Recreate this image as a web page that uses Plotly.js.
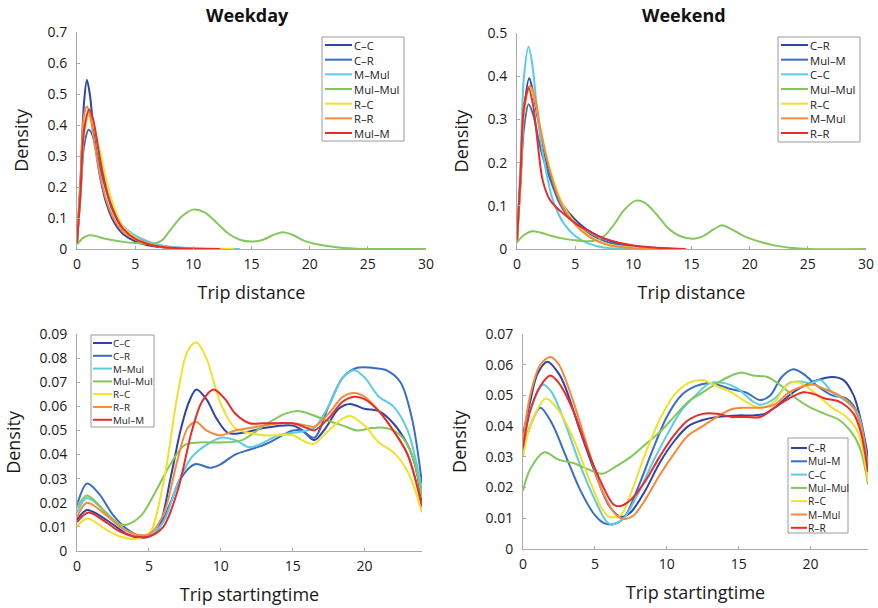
<!DOCTYPE html>
<html>
<head>
<meta charset="utf-8">
<script src="https://cdn.plot.ly/plotly-3.0.1.min.js"></script>
<style>html,body{margin:0;padding:0;background:#fff;}#chart{width:878px;height:608px;}</style>
</head>
<body>
<div id="chart"></div>
<script>
// ---------- Panel titles / labels ----------
const panelTitles = ["Weekday", "Weekend"];
const xTitleDistance = "Trip distance";
const xTitleTime = "Trip startingtime";
const yTitle = "Density";

// ---------- Weekday: trip distance ----------
const wdDistNames = ["C–C", "C–R", "M–Mul", "Mul–Mul", "R–C", "R–R", "Mul–M"];
const wdDist_CC_x = [0,0.3,0.6,0.85,1.1,1.4,1.7,2,2.5,3,3.5,4,5,6,7,8,10,12];
const wdDist_CC_y = [0.02,0.22,0.47,0.545,0.5,0.39,0.3,0.23,0.15,0.1,0.068,0.047,0.025,0.013,0.007,0.003,0.001,0];
const wdDist_CR_x = [0,0.3,0.6,1,1.3,1.7,2,2.5,3,3.5,4,5,6,7,8,10,12];
const wdDist_CR_y = [0.02,0.17,0.33,0.385,0.37,0.31,0.26,0.19,0.13,0.09,0.064,0.038,0.022,0.012,0.006,0.002,0];
const wdDist_MMul_x = [0,0.3,0.6,1,1.3,1.7,2,2.5,3,3.5,4,5,6,7,8,10,12,14];
const wdDist_MMul_y = [0.02,0.19,0.37,0.44,0.42,0.35,0.29,0.21,0.145,0.1,0.072,0.044,0.026,0.014,0.007,0.002,0.0007,0];
const wdDist_MulMul_x = [0,0.5,1,1.5,2,3,4,5,6,6.7,7.3,8,9,10,11,12,13,14,15,16,17,17.7,18.5,19.5,20.5,22,23,24,26,30];
const wdDist_MulMul_y = [0.015,0.035,0.044,0.043,0.037,0.029,0.023,0.019,0.017,0.019,0.028,0.06,0.105,0.127,0.117,0.085,0.05,0.03,0.024,0.03,0.047,0.054,0.046,0.027,0.016,0.007,0.003,0.001,0,0];
const wdDist_RC_x = [0,0.3,0.6,1,1.3,1.7,2,2.5,3,3.5,4,5,6,7,8,10,12,13.5];
const wdDist_RC_y = [0.02,0.18,0.37,0.43,0.415,0.36,0.31,0.225,0.155,0.105,0.07,0.037,0.019,0.009,0.004,0.0015,0.0004,0];
const wdDist_RR_x = [0,0.3,0.6,0.85,1.1,1.5,2,2.5,3,3.5,4,5,6,7,8,10,12];
const wdDist_RR_y = [0.02,0.22,0.43,0.46,0.435,0.34,0.235,0.16,0.11,0.077,0.054,0.031,0.017,0.009,0.004,0.001,0];
const wdDist_MulM_x = [0,0.3,0.6,1.05,1.4,1.8,2.2,2.6,3,3.5,4,5,6,7,8,10,12.3];
const wdDist_MulM_y = [0.02,0.18,0.38,0.45,0.415,0.33,0.245,0.18,0.135,0.093,0.064,0.033,0.017,0.008,0.004,0.001,0];

// ---------- Weekend: trip distance ----------
const weDistNames = ["C–R", "Mul–M", "C–C", "Mul–Mul", "R–C", "M–Mul", "R–R"];
const weDist_CR_x = [0,0.3,0.6,1.05,1.4,1.8,2.2,2.6,3,3.5,4,5,6,7,8,9,10,12,14];
const weDist_CR_y = [0.02,0.16,0.32,0.395,0.36,0.3,0.24,0.195,0.16,0.125,0.1,0.068,0.045,0.03,0.019,0.012,0.007,0.002,0];
const weDist_MulM_x = [0,0.3,0.6,1,1.4,1.8,2.2,2.6,3,3.5,4,5,6,7,8,10,12,14];
const weDist_MulM_y = [0.02,0.15,0.28,0.335,0.31,0.26,0.215,0.18,0.15,0.115,0.09,0.06,0.038,0.024,0.014,0.005,0.001,0];
const weDist_CC_x = [0,0.3,0.6,1,1.3,1.7,2,2.5,3,3.5,4,5,6,7,8,10];
const weDist_CC_y = [0.02,0.2,0.4,0.468,0.43,0.33,0.26,0.18,0.12,0.085,0.06,0.03,0.014,0.006,0.002,0];
const weDist_MulMul_x = [0,0.5,1.3,2,3,4,5,6,6.8,7.5,8.3,9.2,10.2,11,12,13,14,15.2,16,17,17.6,18.5,19.5,20.5,22,23.5,25,30];
const weDist_MulMul_y = [0.015,0.03,0.041,0.038,0.03,0.024,0.02,0.018,0.02,0.03,0.055,0.09,0.112,0.107,0.08,0.048,0.03,0.024,0.03,0.047,0.055,0.045,0.03,0.02,0.009,0.003,0,0];
const weDist_RC_x = [0,0.3,0.6,1.1,1.5,2,2.5,3,3.5,4,5,6,7,8,10,12,14.5];
const weDist_RC_y = [0.02,0.15,0.31,0.375,0.35,0.28,0.22,0.17,0.13,0.1,0.06,0.035,0.019,0.01,0.003,0.001,0];
const weDist_MMul_x = [0,0.3,0.6,1.1,1.5,2,2.5,3,3.5,4,5,6,7,8,10,12,14];
const weDist_MMul_y = [0.02,0.16,0.32,0.378,0.355,0.28,0.215,0.165,0.125,0.095,0.057,0.032,0.017,0.008,0.002,0.0005,0];
const weDist_RR_x = [0,0.3,0.6,1,1.4,1.8,2.2,2.8,3.5,4,5,6,7,8,10,12,14.5];
const weDist_RR_y = [0.02,0.17,0.33,0.372,0.33,0.24,0.16,0.115,0.093,0.082,0.06,0.044,0.03,0.02,0.008,0.003,0];

// ---------- Weekday: trip starting time ----------
const wdTimeNames = ["C–C", "C–R", "M–Mul", "Mul–Mul", "R–C", "R–R", "Mul–M"];
const wdTime_CC_x = [0,0.7,1.5,2.5,3.5,4.3,5,5.7,6.5,7.2,7.8,8.3,9,9.7,10.5,11.5,13,15,15.7,16.5,17.3,18.2,19,20,21,22,23,23.5,24];
const wdTime_CC_y = [0.013,0.017,0.015,0.011,0.007,0.0055,0.006,0.01,0.03,0.05,0.062,0.067,0.063,0.055,0.049,0.049,0.051,0.052,0.05,0.046,0.051,0.059,0.061,0.059,0.058,0.053,0.044,0.036,0.021];
const wdTime_CR_x = [0,0.7,1.5,2.5,3.5,4.5,5.5,6.5,7.2,8.2,9.3,10,11,12,13,14,15,15.6,16.5,17.5,18.5,19.5,20.5,21.5,22.5,23.3,24];
const wdTime_CR_y = [0.019,0.028,0.024,0.015,0.009,0.006,0.008,0.02,0.03,0.036,0.0345,0.036,0.04,0.042,0.044,0.047,0.05,0.05,0.047,0.06,0.072,0.076,0.076,0.075,0.07,0.055,0.028];
const wdTime_MMul_x = [0,0.7,2,3,4,5,6,7,8,9,10,11,12,13,14,15,16,16.5,17.5,18.5,19.3,20,21,22,23,24];
const wdTime_MMul_y = [0.016,0.022,0.016,0.01,0.007,0.0065,0.012,0.028,0.039,0.044,0.047,0.046,0.043,0.045,0.048,0.049,0.05,0.051,0.06,0.072,0.075,0.072,0.064,0.06,0.05,0.025];
const wdTime_MulMul_x = [0,0.7,2,3,3.5,4.5,5.5,6.5,7.5,8.5,10,11.5,13,14.5,15.5,17,18.5,19.5,20.5,21.5,22.5,23.3,24];
const wdTime_MulMul_y = [0.018,0.023,0.016,0.011,0.011,0.015,0.025,0.036,0.044,0.045,0.045,0.046,0.052,0.057,0.058,0.055,0.052,0.05,0.051,0.051,0.048,0.04,0.022];
const wdTime_RC_x = [0,0.7,2,3,4,5,6,7,7.7,8.3,9,10,11,12,13,14,15,16,16.5,17.5,18.5,19,20,21,22,23,24];
const wdTime_RC_y = [0.01,0.0135,0.009,0.006,0.005,0.007,0.028,0.065,0.083,0.0865,0.08,0.061,0.051,0.049,0.048,0.048,0.048,0.045,0.0445,0.05,0.055,0.056,0.052,0.045,0.041,0.033,0.016];
const wdTime_RR_x = [0,0.7,2,3,4,5,6,7,7.7,8.3,9,10,11,12,13,14,15,16,16.5,17.5,18.5,19.3,20,21,22,23,24];
const wdTime_RR_y = [0.014,0.02,0.015,0.01,0.007,0.007,0.015,0.038,0.051,0.0535,0.05,0.048,0.05,0.051,0.052,0.053,0.053,0.052,0.0515,0.057,0.064,0.0655,0.064,0.058,0.05,0.04,0.018];
const wdTime_MulM_x = [0,0.8,2,3,4,5,6,7,8,8.7,9.5,10.3,11,12,13,14,15,16,16.5,17.5,18.5,19.3,20,21,22,23,24];
const wdTime_MulM_y = [0.012,0.016,0.012,0.008,0.006,0.006,0.01,0.025,0.05,0.062,0.067,0.063,0.057,0.053,0.053,0.053,0.053,0.051,0.05,0.055,0.062,0.064,0.063,0.058,0.05,0.04,0.019];

// ---------- Weekend: trip starting time ----------
const weTimeNames = ["C–R", "Mul–M", "C–C", "Mul–Mul", "R–C", "M–Mul", "R–R"];
const weTime_CR_x = [0,0.5,1,1.7,2.5,3,4,5,6,6.8,7.5,8.5,9.5,10.5,11.5,12.5,13.5,15,16,16.8,17.5,18.5,19.5,20.5,21.5,22.3,23,23.5,24];
const weTime_CR_y = [0.037,0.048,0.057,0.061,0.057,0.052,0.038,0.025,0.014,0.0105,0.012,0.019,0.028,0.035,0.04,0.042,0.043,0.0435,0.0435,0.044,0.046,0.05,0.053,0.055,0.056,0.055,0.05,0.042,0.03];
const weTime_MulM_x = [0,0.5,1.2,2,3,4,5,5.6,6.2,7,8,9,10,11,12,12.8,13.5,14.5,15.5,16.5,17.2,18,18.8,19.5,20.5,21.5,22.5,23.2,24];
const weTime_MulM_y = [0.032,0.04,0.046,0.041,0.03,0.019,0.011,0.0085,0.008,0.01,0.02,0.032,0.043,0.05,0.053,0.054,0.0535,0.052,0.051,0.0485,0.05,0.056,0.0585,0.057,0.053,0.05,0.049,0.045,0.028];
const weTime_CC_x = [0,0.5,1.4,2,3,4,5,5.8,6.2,7,8,9,10,11,12,13,14,15,16,16.5,17.5,18.5,19.3,20,20.7,21.5,22.5,23.3,24];
const weTime_CC_y = [0.033,0.045,0.0535,0.051,0.04,0.027,0.016,0.009,0.008,0.01,0.018,0.028,0.037,0.045,0.05,0.054,0.054,0.052,0.048,0.047,0.049,0.054,0.0545,0.054,0.055,0.051,0.048,0.044,0.025];
const weTime_MulMul_x = [0,0.5,1.5,2.5,3.5,4.5,5.5,6.5,7.5,8.5,9.5,10.5,11.5,12.5,13.5,14.5,15.2,16,17,18,19,20,21,22,23,23.5,24];
const weTime_MulMul_y = [0.019,0.026,0.0315,0.029,0.028,0.026,0.0245,0.027,0.03,0.034,0.038,0.043,0.048,0.051,0.054,0.0565,0.0575,0.0565,0.056,0.053,0.049,0.046,0.044,0.042,0.037,0.032,0.021];
const weTime_RC_x = [0,0.5,1.6,2.5,3.5,4.5,5.5,6,6.8,7.5,8.5,9.5,10.5,11.5,12.5,13.5,14.5,15.5,16.5,17.5,18.3,19,19.7,20.5,21.5,22.5,23.3,24];
const weTime_RC_y = [0.03,0.04,0.049,0.045,0.036,0.024,0.013,0.0105,0.011,0.018,0.031,0.042,0.05,0.054,0.055,0.053,0.051,0.048,0.046,0.048,0.053,0.0545,0.053,0.05,0.046,0.043,0.038,0.022];
const weTime_MMul_x = [0,0.5,1.2,1.9,2.5,3.5,4.5,5.5,6.5,7,7.7,8.5,9.5,10.5,11.5,12.5,13.5,14.5,15.5,16.5,17.5,18.5,19.5,20.2,21,22,23,23.5,24];
const weTime_MMul_y = [0.035,0.05,0.06,0.0625,0.06,0.048,0.033,0.019,0.011,0.0098,0.011,0.016,0.024,0.031,0.037,0.04,0.043,0.0455,0.046,0.046,0.047,0.051,0.053,0.0535,0.052,0.05,0.046,0.04,0.026];
const weTime_RR_x = [0,0.5,1.2,1.9,2.5,3.5,4.5,5.5,6.3,6.8,7.5,8.5,9.5,10.5,11.5,12.5,13.5,14.5,15.5,16.5,17.5,18.5,19.5,20.2,21,22,23,23.5,24];
const weTime_RR_y = [0.033,0.045,0.053,0.0565,0.054,0.045,0.032,0.021,0.0145,0.014,0.016,0.022,0.03,0.037,0.042,0.044,0.044,0.043,0.043,0.043,0.046,0.049,0.051,0.0505,0.049,0.048,0.044,0.038,0.025];

// ---------- Tick values ----------
const distTicks = [0, 5, 10, 15, 20, 25, 30];
const timeTicks = [0, 5, 10, 15, 20];
const wdDistYTicks = [0, 0.1, 0.2, 0.3, 0.4, 0.5, 0.6, 0.7];
const weDistYTicks = [0, 0.1, 0.2, 0.3, 0.4, 0.5];
const wdTimeYTicks = [0, 0.01, 0.02, 0.03, 0.04, 0.05, 0.06, 0.07, 0.08, 0.09];
const weTimeYTicks = [0, 0.01, 0.02, 0.03, 0.04, 0.05, 0.06, 0.07];

// ---------- Colours (legend order) ----------
const seriesColors = ["#2f45a6", "#3a6cc6", "#5ccbe6", "#82c85a", "#f0e22a", "#f58a3a", "#ea2b2b"];

const W = 878, H = 608;
const px = v => v / W;
const py = v => 1 - v / H;

const panels = [
  { xa: "x", ya: "y", names: wdDistNames, xs: [wdDist_CC_x, wdDist_CR_x, wdDist_MMul_x, wdDist_MulMul_x, wdDist_RC_x, wdDist_RR_x, wdDist_MulM_x],
    ys: [wdDist_CC_y, wdDist_CR_y, wdDist_MMul_y, wdDist_MulMul_y, wdDist_RC_y, wdDist_RR_y, wdDist_MulM_y] },
  { xa: "x2", ya: "y2", names: weDistNames, xs: [weDist_CR_x, weDist_MulM_x, weDist_CC_x, weDist_MulMul_x, weDist_RC_x, weDist_MMul_x, weDist_RR_x],
    ys: [weDist_CR_y, weDist_MulM_y, weDist_CC_y, weDist_MulMul_y, weDist_RC_y, weDist_MMul_y, weDist_RR_y] },
  { xa: "x3", ya: "y3", names: wdTimeNames, xs: [wdTime_CC_x, wdTime_CR_x, wdTime_MMul_x, wdTime_MulMul_x, wdTime_RC_x, wdTime_RR_x, wdTime_MulM_x],
    ys: [wdTime_CC_y, wdTime_CR_y, wdTime_MMul_y, wdTime_MulMul_y, wdTime_RC_y, wdTime_RR_y, wdTime_MulM_y] },
  { xa: "x4", ya: "y4", names: weTimeNames, xs: [weTime_CR_x, weTime_MulM_x, weTime_CC_x, weTime_MulMul_x, weTime_RC_x, weTime_MMul_x, weTime_RR_x],
    ys: [weTime_CR_y, weTime_MulM_y, weTime_CC_y, weTime_MulMul_y, weTime_RC_y, weTime_MMul_y, weTime_RR_y] }
];

const traces = [];
panels.forEach(p => {
  p.names.forEach((n, i) => {
    traces.push({
      type: "scatter", mode: "lines", name: n,
      x: p.xs[i], y: p.ys[i], xaxis: p.xa, yaxis: p.ya,
      line: { color: seriesColors[i], width: 2, shape: "spline", smoothing: 0.9 },
      showlegend: false, hoverinfo: "x+y+name"
    });
  });
});

const FONT = "Open Sans, Noto Sans, sans-serif";
const axisBase = {
  showline: true, linecolor: "#a9a9a9", linewidth: 1, mirror: false,
  showgrid: false, zeroline: false,
  ticks: "inside", ticklen: 3, tickcolor: "#a9a9a9", tickwidth: 1,
  tickfont: { family: FONT, size: 14, color: "#1a1a1a" },
  fixedrange: true
};
function xAxis(domain, range, ticks, title, anchor) {
  return Object.assign({}, axisBase, {
    domain: domain, range: range, tickvals: ticks, ticktext: ticks.map(String), anchor: anchor,
    ticklabelstandoff: 2,
    title: { text: title, font: { family: FONT, size: 18, color: "#1a1a1a" }, standoff: 14 }
  });
}
function yAxis(domain, range, ticks, anchor) {
  return Object.assign({}, axisBase, {
    domain: domain, range: range, tickvals: ticks, ticktext: ticks.map(String), anchor: anchor,
    ticklabelstandoff: 6,
    title: { text: yTitle, font: { family: FONT, size: 18, color: "#1a1a1a" }, standoff: 14 }
  });
}

// ---------- Custom compact legends (shapes + multi-line text) ----------
const shapes = [];
const annotations = [];
function addLegend(names, box, firstY, step, lx0, lx1, tx) {
  shapes.push({ type: "rect", xref: "paper", yref: "paper",
    x0: px(box[0]), x1: px(box[1]), y0: py(box[3]), y1: py(box[2]),
    line: { color: "#9a9a9a", width: 1 }, fillcolor: "#ffffff", layer: "above" });
  names.forEach((n, i) => {
    const yy = firstY + i * step;
    shapes.push({ type: "line", xref: "paper", yref: "paper",
      x0: px(lx0), x1: px(lx1), y0: py(yy), y1: py(yy),
      line: { color: seriesColors[i], width: 2 }, layer: "above" });
  });
  const centerY = firstY + step * (names.length - 1) / 2;
  annotations.push({ xref: "paper", yref: "paper", x: px(tx), y: py(centerY),
    xanchor: "left", yanchor: "middle", align: "left", showarrow: false, borderpad: 0,
    text: names.join("<br>"),
    font: { family: FONT, size: step / 1.3, color: "#222" } });
}
addLegend(wdDistNames, [322, 404, 37, 141], 45, 14.67, 325, 352, 353);
addLegend(weDistNames, [778, 860, 37, 142], 45, 14.67, 781, 808, 809);
addLegend(wdTimeNames, [91, 154, 335, 427], 343, 12.8, 93, 112, 112);
addLegend(weTimeNames, [788, 848, 438, 533], 448, 13.3, 791, 807, 807);

annotations.push({ xref: "paper", yref: "paper", x: px(247), y: py(15), xanchor: "center", yanchor: "middle",
  showarrow: false, text: "<b>" + panelTitles[0] + "</b>", font: { family: FONT, size: 18, color: "#111" } });
annotations.push({ xref: "paper", yref: "paper", x: px(684), y: py(15), xanchor: "center", yanchor: "middle",
  showarrow: false, text: "<b>" + panelTitles[1] + "</b>", font: { family: FONT, size: 18, color: "#111" } });

const layout = {
  width: W, height: H,
  margin: { l: 0, r: 0, t: 0, b: 0 },
  paper_bgcolor: "#ffffff", plot_bgcolor: "#ffffff",
  font: { family: FONT },
  showlegend: false,
  xaxis:  xAxis([px(77), px(426)], [0, 30], distTicks, xTitleDistance, "y"),
  yaxis:  yAxis([py(249), py(32)], [0, 0.7], wdDistYTicks, "x"),
  xaxis2: xAxis([px(517), px(866)], [0, 30], distTicks, xTitleDistance, "y2"),
  yaxis2: yAxis([py(249), py(33)], [0, 0.5], weDistYTicks, "x2"),
  xaxis3: xAxis([px(77), px(422)], [0, 24], timeTicks, xTitleTime, "y3"),
  yaxis3: yAxis([py(551), py(334)], [0, 0.09], wdTimeYTicks, "x3"),
  xaxis4: xAxis([px(523), px(868)], [0, 24], timeTicks, xTitleTime, "y4"),
  yaxis4: yAxis([py(549), py(334)], [0, 0.07], weTimeYTicks, "x4"),
  shapes: shapes,
  annotations: annotations
};

Plotly.newPlot("chart", traces, layout, { displayModeBar: false, staticPlot: true });
</script>
</body>
</html>
